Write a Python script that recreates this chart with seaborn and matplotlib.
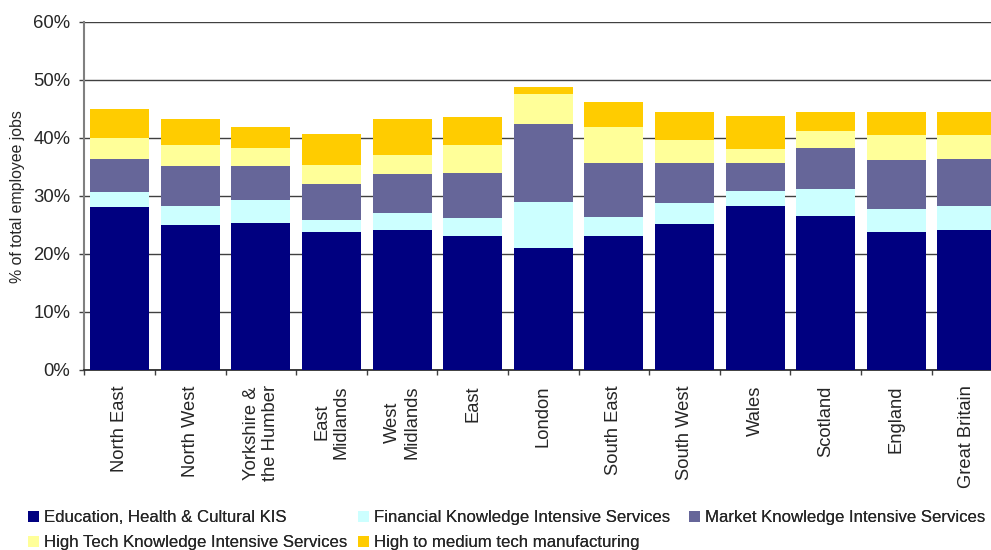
import numpy as np
import pandas as pd
import matplotlib
matplotlib.use("Agg")
import matplotlib.pyplot as plt
import seaborn as sns
from matplotlib.patches import Patch
from matplotlib.ticker import PercentFormatter, FixedLocator

# ---- data (percent of total employee jobs) ----
regions = ["North East", "North West", "Yorkshire &\nthe Humber", "East\nMidlands",
           "West\nMidlands", "East", "London", "South East", "South West", "Wales",
           "Scotland", "England", "Great Britain"]
education = [28.0, 24.9, 25.4, 23.7, 24.2, 23.0, 21.1, 23.0, 25.1, 28.3, 26.6, 23.7, 24.2]
financial = [2.6, 3.4, 3.8, 2.2, 2.9, 3.1, 7.8, 3.4, 3.6, 2.6, 4.5, 4.1, 4.0]
market = [5.7, 6.9, 5.9, 6.2, 6.6, 7.9, 13.4, 9.2, 7.0, 4.8, 7.1, 8.3, 8.1]
hightech = [3.6, 3.5, 3.1, 3.3, 3.4, 4.8, 5.2, 6.3, 4.0, 2.3, 2.9, 4.3, 4.1]
manufacturing = [5.1, 4.6, 3.6, 5.3, 6.1, 4.7, 1.2, 4.2, 4.7, 5.7, 3.3, 4.1, 4.1]

series_names = ["Education, Health & Cultural KIS",
                "Financial Knowledge Intensive Services",
                "Market Knowledge Intensive Services",
                "High Tech Knowledge Intensive Services",
                "High to medium tech manufacturing"]
colors = ["#000080", "#CCFFFF", "#666699", "#FFFF99", "#FFCC00"]

sns.set_style("white")
plt.rcParams["font.family"] = ["Liberation Sans", "DejaVu Sans"]

fig = plt.figure(figsize=(9.91, 5.5), dpi=100)
ax = fig.add_axes([84.3 / 991, 1 - 370 / 550, 918 / 991, (370 - 21.7) / 550])

layers = [education, financial, market, hightech, manufacturing]
cum = np.cumsum(np.array(layers), axis=0)
keys = [f"r{i}" for i in range(len(regions))]
for k in range(len(layers) - 1, -1, -1):
    df = pd.DataFrame({"region": keys, "value": cum[k]})
    sns.barplot(data=df, x="region", y="value", color=colors[k], saturation=1,
                width=0.836, ax=ax, linewidth=0, zorder=3)

ax.set_ylim(0, 60)
ax.set_xlim(-0.5, len(regions) - 0.5)
ax.yaxis.set_major_locator(FixedLocator(np.arange(0, 61, 10)))
ax.yaxis.set_major_formatter(PercentFormatter(decimals=0))
ax.grid(axis="y", color="#404040", linewidth=1.0, zorder=0)
ax.grid(axis="x", visible=False)
ax.set_axisbelow(True)

ax.set_xticks(range(len(regions)))
ax.set_xticklabels(regions, rotation=90, ha="center", va="top",
                   multialignment="center", fontsize=13.2)
ax.set_xticks(np.arange(-0.5, len(regions), 1), minor=True)
ax.tick_params(axis="x", which="major", length=0, pad=11)
ax.tick_params(axis="x", which="minor", length=3.5, width=1, color="#404040",
               direction="out", bottom=True)
ax.tick_params(axis="y", length=3.5, width=1, color="#404040", direction="out",
               left=True, pad=6.5, labelsize=13.3)
ax.set_xlabel("")
ax.set_ylabel("")

for s in ["top", "right"]:
    ax.spines[s].set_visible(False)
ax.spines["left"].set_color("#808080")
ax.spines["left"].set_linewidth(1.5)
ax.spines["bottom"].set_color("#202020")
ax.spines["bottom"].set_linewidth(1.2)

fig.text(18 / 991, 1 - 196.5 / 550, "% of total employee jobs", rotation=90,
         ha="center", va="center", fontsize=11.4)

handles = [Patch(facecolor=c, edgecolor="none", label=n) for c, n in zip(colors, series_names)]
leg_kw = dict(loc="upper left", frameon=False, fontsize=12.1, borderpad=0,
              borderaxespad=0, handlelength=0.63, handleheight=0.63,
              handletextpad=0.3, labelspacing=0.62)
cols = [(28 / 991, [handles[0], handles[3]]),
        (358 / 991, [handles[1], handles[4]]),
        (689 / 991, [handles[2]])]
for x0, hs in cols:
    leg = fig.legend(handles=hs, bbox_to_anchor=(x0, 1 - 510 / 550), **leg_kw)
    fig.add_artist(leg)

fig.savefig("out.png", dpi=100)
